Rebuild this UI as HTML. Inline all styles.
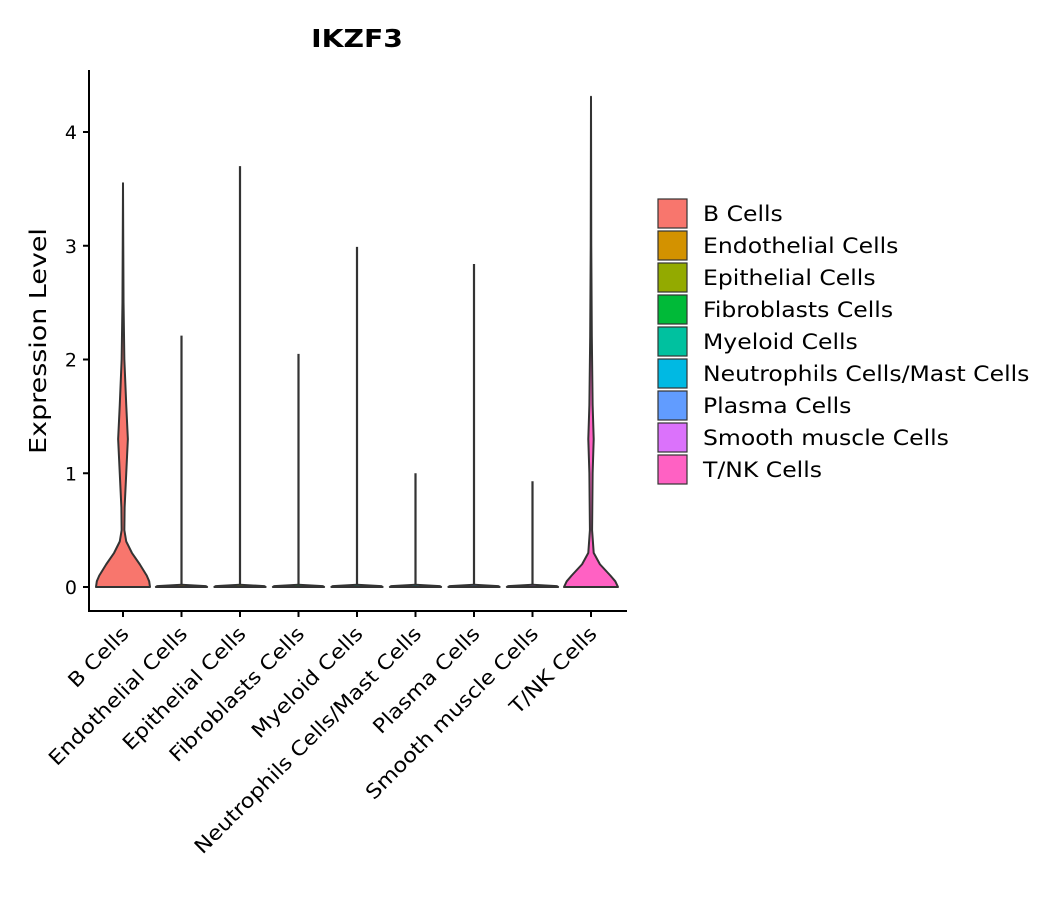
<!DOCTYPE html>
<html><head><meta charset="utf-8"><style>
body{margin:0;background:#fff;font-family:"DejaVu Sans","Liberation Sans",sans-serif;}
</style></head><body>
<svg id="chart" width="1057" height="900" xmlns="http://www.w3.org/2000/svg" font-family="DejaVu Sans, Liberation Sans, sans-serif"></svg>
<script>
const categories=["B Cells","Endothelial Cells","Epithelial Cells","Fibroblasts Cells","Myeloid Cells","Neutrophils Cells/Mast Cells","Plasma Cells","Smooth muscle Cells","T/NK Cells"];
const colors=["#F8766D","#D39200","#93AA00","#00BA38","#00C19F","#00B9E3","#619CFF","#DB72FB","#FF61C3"];
const maxValues=[3.55,2.21,3.70,2.05,2.99,1.00,2.84,0.93,4.31];
const yTicks=[0,1,2,3,4];
const bLevels=[0,0.05,0.1,0.2,0.3,0.4,0.5,0.7,1.0,1.3,1.6,2.0,2.5,3.0,3.55];
const bWidths=[1.0,0.97,0.88,0.62,0.33,0.12,0.05,0.06,0.12,0.18,0.12,0.05,0.02,0.01,0];
const tLevels=[0,0.05,0.1,0.2,0.3,0.5,1.0,1.3,1.6,2.2,3.0,4.31];
const tWidths=[1.0,0.9,0.72,0.33,0.1,0.04,0.06,0.1,0.06,0.03,0.01,0];
const zLevels=[0,0.008,0.02];
const zWidths=[0.95,0.9,0];
const svg=document.getElementById('chart');
const NS='http://www.w3.org/2000/svg';
const X0=89,X1=627,Y0=611,Ytop=70;
function yS(v){return 587-v*113.75;}
function xS(i){return 123+i*58.5;}
const halfMax=27;
function mk(t,a){const e=document.createElementNS(NS,t);for(const k in a)e.setAttribute(k,a[k]);svg.appendChild(e);return e;}
function stretch(el,f){const L=el.getComputedTextLength();el.setAttribute('textLength',(L*f).toFixed(1));el.setAttribute('lengthAdjust','spacingAndGlyphs');}
let e;
e=mk('text',{x:357,y:47,'text-anchor':'middle','font-size':25,'font-weight':'bold'});e.textContent='IKZF3';


stretch(e,1.13);
e=mk('text',{transform:'translate(46,341) rotate(-90)','text-anchor':'middle','font-size':23});e.textContent='Expression Level';


stretch(e,1.17);
function violin(i,levels,widths){
  const cx=xS(i);let r=[],l=[];
  levels.forEach((v,k)=>{r.push([cx+widths[k]*halfMax,yS(v)]);l.push([cx-widths[k]*halfMax,yS(v)]);});
  const pts=r.concat(l.reverse());
  let d='M'+pts.map(p=>p[0].toFixed(2)+','+p[1].toFixed(2)).join(' L')+' Z';
  const p=mk('path',{d:d,fill:colors[i],stroke:'#333','stroke-width':2,'stroke-linejoin':'round'});
  
  
  const ln=mk('line',{x1:cx,x2:cx,y1:yS(levels[levels.length-1]),y2:yS(maxValues[i]),stroke:'#333','stroke-width':2.2});
  
  
}
categories.forEach((c,i)=>{
  if(i===0)violin(i,bLevels,bWidths);
  else if(i===8)violin(i,tLevels,tWidths);
  else violin(i,zLevels,zWidths);
});
e=mk('line',{x1:X0,x2:X0,y1:Ytop,y2:Y0+1,stroke:'#000','stroke-width':2});


e=mk('line',{x1:X0-1,x2:X1,y1:Y0,y2:Y0,stroke:'#000','stroke-width':2});


yTicks.forEach(t=>{
  const y=yS(t);
  mk('line',{x1:X0-6,x2:X0,y1:y,y2:y,stroke:'#000','stroke-width':2});
  const tx=mk('text',{x:X0-12,y:y+7,'text-anchor':'end','font-size':19,fill:'#000'});tx.textContent=t;
  
  
});
categories.forEach((c,i)=>{
  const x=xS(i);
  mk('line',{x1:x,x2:x,y1:Y0,y2:Y0+6,stroke:'#000','stroke-width':2});
  const tx=mk('text',{transform:`translate(${x+7},${Y0+24}) rotate(-45)`,'text-anchor':'end','font-size':20,fill:'#000'});tx.textContent=c;
  
  
  stretch(tx,1.12);
});
categories.forEach((c,i)=>{
  const y=199+i*32;
  const r=mk('rect',{x:658,y:y,width:29,height:29,fill:colors[i],stroke:'#333','stroke-width':1.2});
  
  
  const tx=mk('text',{x:703,y:y+22,'font-size':21,fill:'#000'});tx.textContent=c;
  
  
  stretch(tx,1.12);
});
</script>
</body></html>
